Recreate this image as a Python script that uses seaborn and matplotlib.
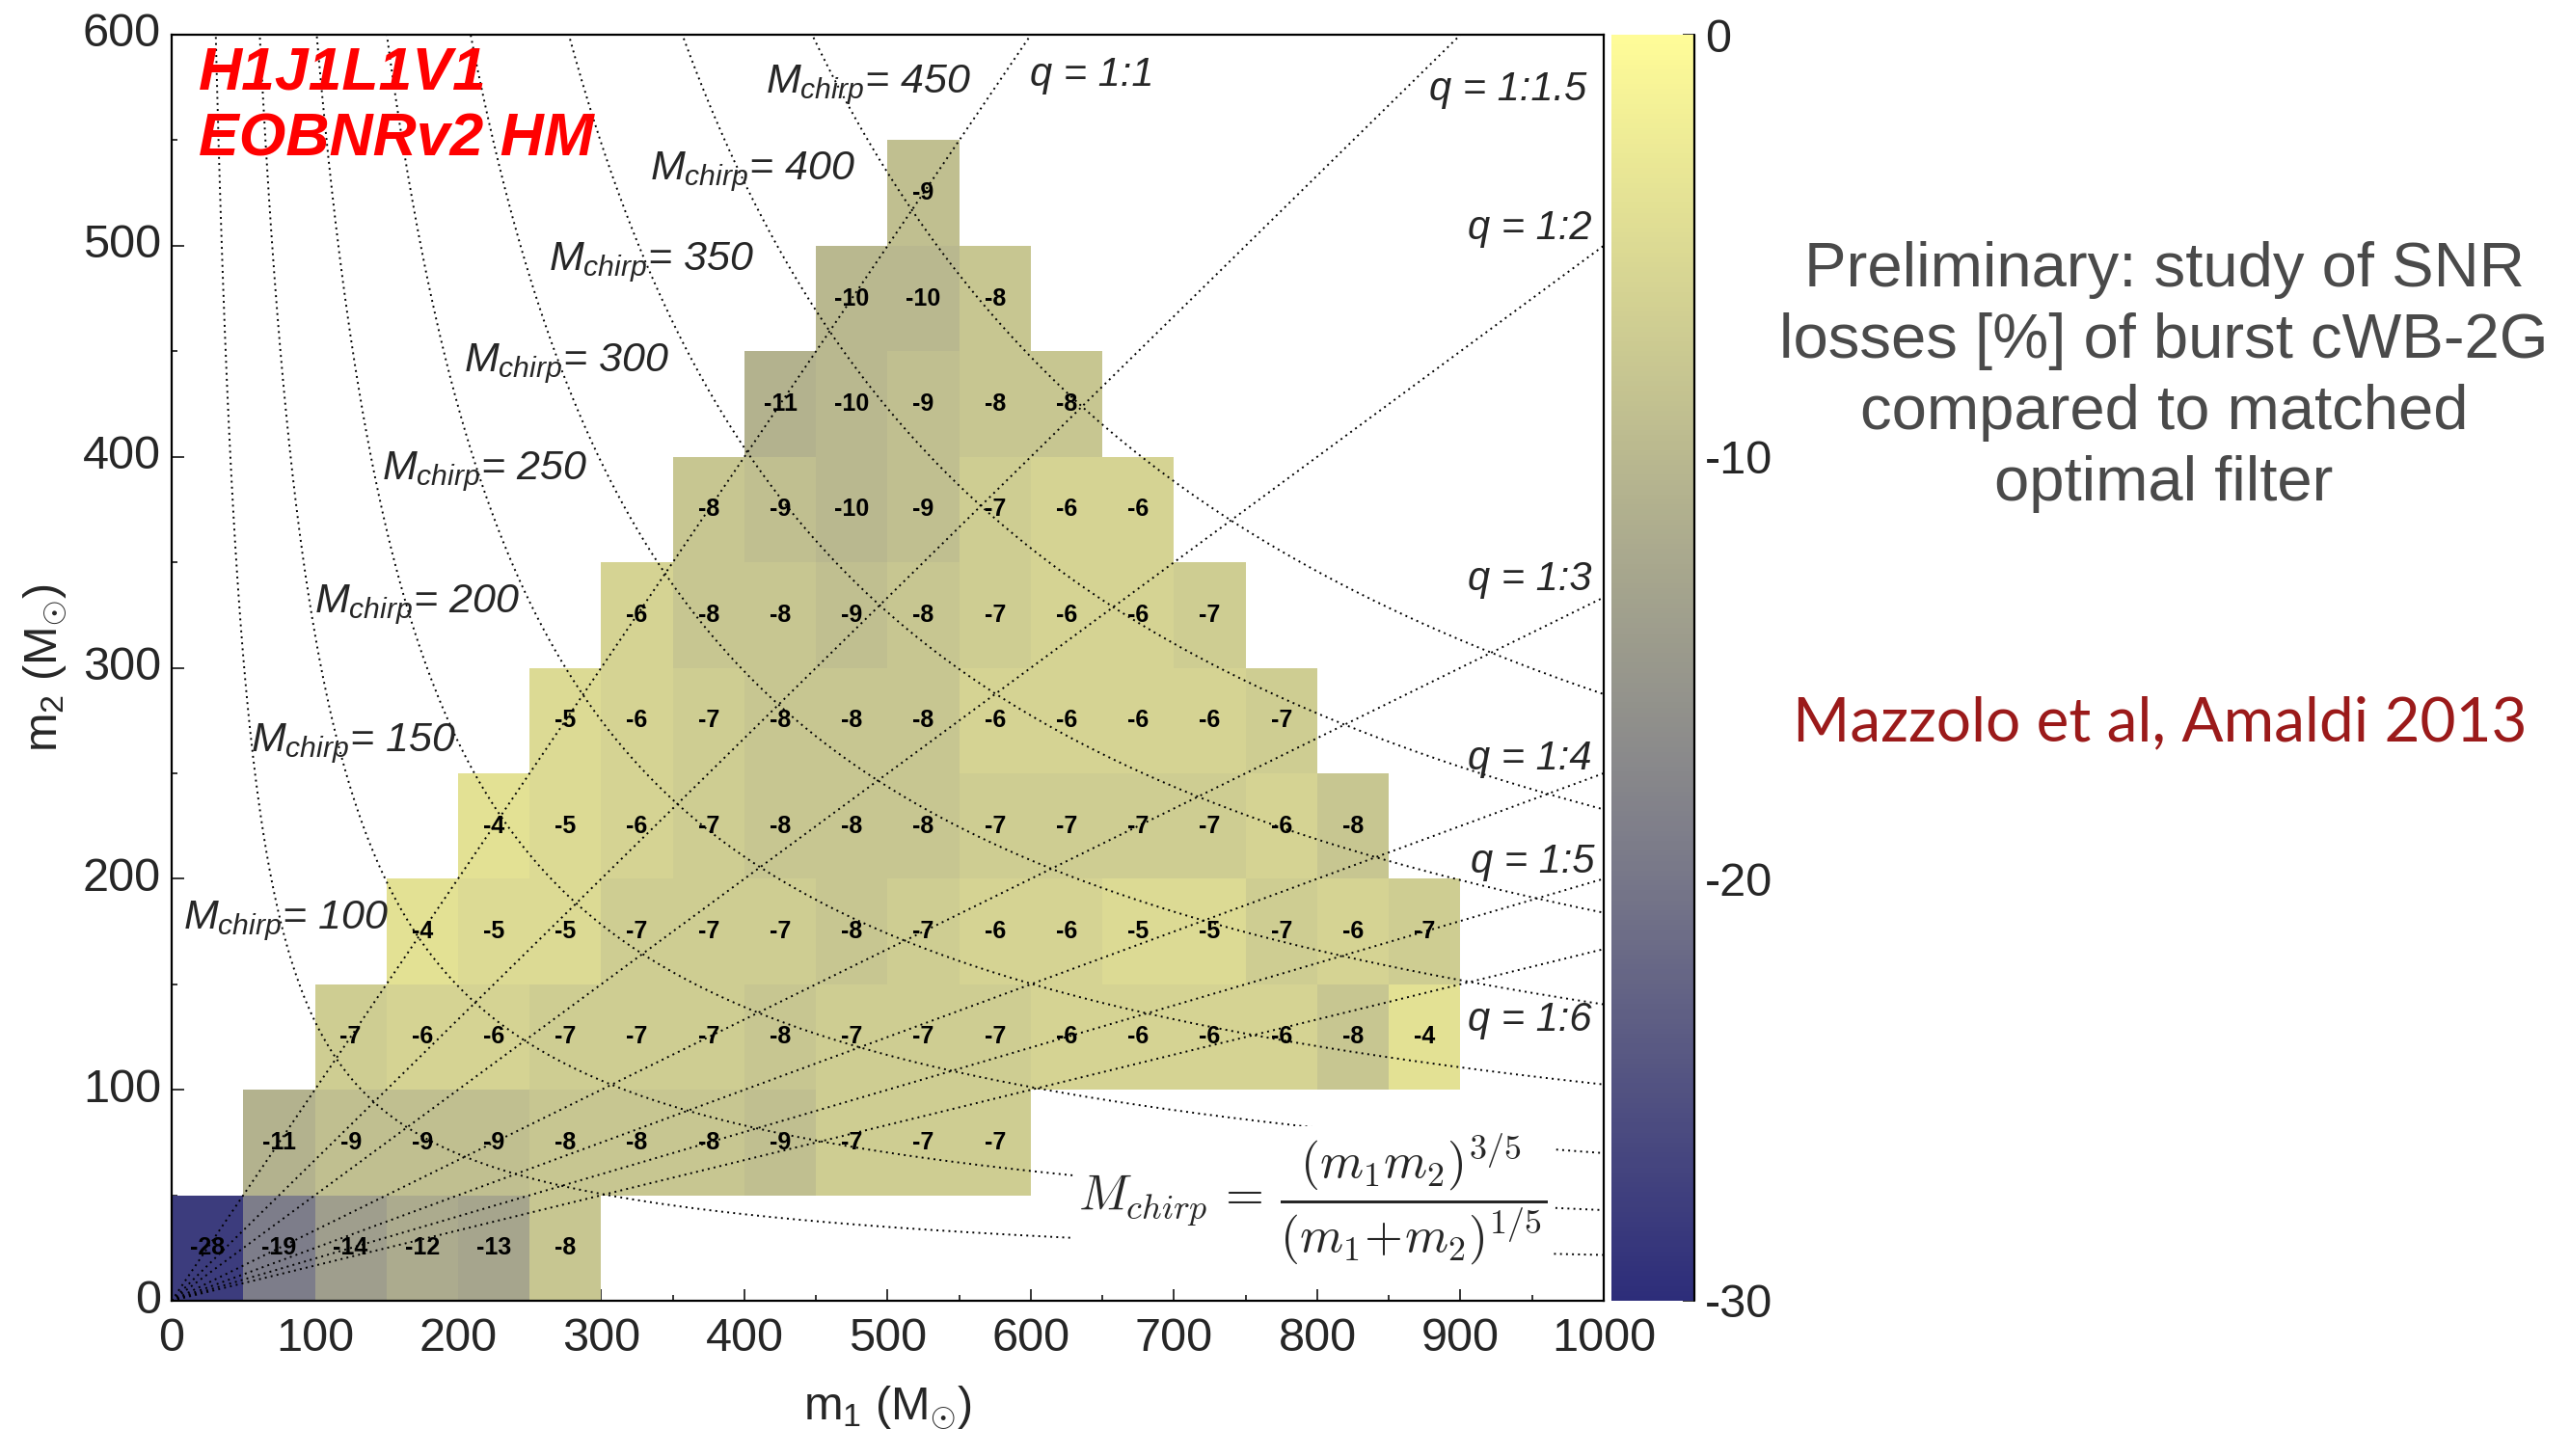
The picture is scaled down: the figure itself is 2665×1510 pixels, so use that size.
import numpy as np
import pandas as pd
import matplotlib
matplotlib.use("Agg")
import matplotlib.pyplot as plt
import matplotlib.transforms as mtransforms
from matplotlib.colors import LinearSegmentedColormap
import seaborn as sns

# ---------------------------------------------------------------------------
# SNR loss [%] of burst cWB-2G vs. matched filter, on a 50 Msun x 50 Msun grid.
# One list per m2 row (lower edge of the row), starting at the given m1 bin.
# ---------------------------------------------------------------------------
bin_width = 50
m1_edges = list(range(0, 1000, bin_width))     # 20 columns
m2_edges = list(range(0, 600, bin_width))      # 12 rows

row_m2 = [0, 50, 100, 150, 200, 250, 300, 350, 400, 450, 500]
row_first_m1 = [0, 50, 100, 150, 200, 250, 300, 350, 400, 450, 500]
loss_m2_000 = [-28, -19, -14, -12, -13, -8]
loss_m2_050 = [-11, -9, -9, -9, -8, -8, -8, -9, -7, -7, -7]
loss_m2_100 = [-7, -6, -6, -7, -7, -7, -8, -7, -7, -7, -6, -6, -6, -6, -8, -4]
loss_m2_150 = [-4, -5, -5, -7, -7, -7, -8, -7, -6, -6, -5, -5, -7, -6, -7]
loss_m2_200 = [-4, -5, -6, -7, -8, -8, -8, -7, -7, -7, -7, -6, -8]
loss_m2_250 = [-5, -6, -7, -8, -8, -8, -6, -6, -6, -6, -7]
loss_m2_300 = [-6, -8, -8, -9, -8, -7, -6, -6, -7]
loss_m2_350 = [-8, -9, -10, -9, -7, -6, -6]
loss_m2_400 = [-11, -10, -9, -8, -8]
loss_m2_450 = [-10, -10, -8]
loss_m2_500 = [-9]
loss_rows = [loss_m2_000, loss_m2_050, loss_m2_100, loss_m2_150, loss_m2_200,
             loss_m2_250, loss_m2_300, loss_m2_350, loss_m2_400, loss_m2_450,
             loss_m2_500]

# Guide curves: constant chirp mass and constant mass ratio
mchirp_values = [100, 150, 200, 250, 300, 350, 400, 450]
q_values = [1, 1.5, 2, 3, 4, 5, 6]
q_names = ["1:1", "1:1.5", "1:2", "1:3", "1:4", "1:5", "1:6"]

cbar_ticks = [0, -10, -20, -30]
x_tick_labels = [str(v) for v in range(0, 1001, 100)]
y_tick_labels = [str(v) for v in range(0, 601, 100)]

# ---------------------------------------------------------------------------
grid = pd.DataFrame(np.nan, index=m2_edges, columns=m1_edges)
for m2, m1_start, vals in zip(row_m2, row_first_m1, loss_rows):
    for k, v in enumerate(vals):
        grid.loc[m2, m1_start + k * bin_width] = v

sns.set_style("white")
plt.rcParams["font.family"] = ["Liberation Sans", "DejaVu Sans"]
plt.rcParams["axes.unicode_minus"] = False
plt.rcParams["mathtext.fontset"] = "custom"
plt.rcParams["mathtext.rm"] = "Liberation Sans"
plt.rcParams["mathtext.it"] = "Liberation Sans:italic"
plt.rcParams["mathtext.bf"] = "Liberation Sans:bold"

cmap = LinearSegmentedColormap.from_list(
    "snr_loss",
    [(0.0, "#2d2d7a"), (1 / 3, "#777789"), (2 / 3, "#b9b88f"), (1.0, "#fffc98")],
)

W, H = 2665, 1510
fig = plt.figure(figsize=(W / 100, H / 100), dpi=100)
ax = fig.add_axes([178 / W, 1 - 1349 / H, 1485 / W, 1313 / H])
cax = fig.add_axes([1671 / W, 1 - 1349 / H, 86 / W, 1313 / H])

sns.heatmap(
    grid, ax=ax, cbar_ax=cax, cmap=cmap, vmin=-30, vmax=0,
    annot=True, fmt=".0f", linewidths=0,
    annot_kws={"color": "black", "fontsize": 18, "fontweight": "bold",
               "family": ["Liberation Sans Narrow", "Liberation Sans"]},
    cbar_kws={"ticks": cbar_ticks},
)
ax.invert_yaxis()

# mass coordinates (Msun) -> heatmap cell index coordinates
mass = mtransforms.Affine2D().scale(1.0 / bin_width) + ax.transData

# axes frame and ticks
for sp in ax.spines.values():
    sp.set_visible(True)
    sp.set_color("black")
    sp.set_linewidth(1.6)
ax.set_xticks(np.arange(0, 21, 2))
ax.set_xticklabels(x_tick_labels, rotation=0)
ax.set_xticks(np.arange(1, 21, 2), minor=True)
ax.set_yticks(np.arange(0, 13, 2))
ax.set_yticklabels(y_tick_labels, rotation=0)
ax.set_yticks(np.arange(1, 13, 2), minor=True)
ax.tick_params(which="both", direction="in", bottom=True, left=True,
               top=False, right=False, color="black", width=1.1)
ax.tick_params(which="major", length=9, labelsize=35)
ax.tick_params(which="minor", length=4.5)
ax.tick_params(axis="x", which="major", pad=12)
ax.tick_params(axis="y", which="major", pad=8)
ax.set_xlabel(r"m$_1$ (M$_{\odot}$)", fontsize=35, labelpad=18)
ax.set_ylabel(r"m$_2$ (M$_{\odot}$)", fontsize=35, labelpad=10)

# dotted guide lines
line_kw = dict(color="black", lw=1.4, ls=(0, (1, 2.2)), zorder=3, transform=mass)
for q in q_values:
    m1 = np.array([0.0, 1000.0])
    ax.plot(m1, m1 / q, **line_kw)
ratio = np.geomspace(1 / 80, 80, 4000)
eta = ratio / (1 + ratio) ** 2
for mc in mchirp_values:
    mtot = mc / eta ** 0.6
    ax.plot(mtot / (1 + ratio), mtot * ratio / (1 + ratio), **line_kw)

# curve labels
mchirp_label_pos = [(415, 576), (334, 535), (263, 492), (204, 444),
                    (147, 393), (100, 330), (55, 264), (8, 180)]
for mc, (x, y) in zip(mchirp_values[::-1], mchirp_label_pos):
    ax.text(x, y, r"$M_{chirp}$" + f"= {mc}", transform=mass, fontsize=31,
            style="italic", ha="left", va="center", zorder=4)

q_label_pos = [(599, 581), (878, 574), (905, 508), (905, 342),
               (905, 257), (907, 208), (905, 133)]
for name, (x, y) in zip(q_names, q_label_pos):
    ax.text(x, y, f"q = {name}", transform=mass, fontsize=30,
            style="italic", ha="left", va="center", zorder=4)

# chirp mass definition
ax.text(797, 48, r"$M_{chirp}\, =\, \dfrac{(m_1 m_2)^{3/5}}{(m_1\!+\!m_2)^{1/5}}$",
        transform=mass, fontsize=37, ha="center", va="center",
        math_fontfamily="cm", zorder=6,
        bbox=dict(facecolor="white", edgecolor="none", pad=4))

# detector network / waveform tag
ax.text(19, 595, "H1J1L1V1\nEOBNRv2 HM", transform=mass, fontsize=45,
        color="#ff0000", fontweight="bold", style="italic",
        ha="left", va="top", linespacing=1.2, zorder=6)

# colorbar styling
cbar = ax.collections[0].colorbar
cbar.outline.set_visible(False)
cax.tick_params(direction="in", length=9, width=1.1, labelsize=35, pad=8,
                right=True, color="black")
cax.plot([1, 1], [0, 1], transform=cax.transAxes, color="black", lw=1.6,
         clip_on=False)

# side notes
fig.text(2244 / W, 1 - 391 / H,
         "Preliminary: study of SNR\nlosses [%] of burst cWB-2G\ncompared to matched\noptimal filter",
         ha="center", va="center", fontsize=47, color="#4a4a4a", linespacing=1.3)
fig.text(2240 / W, 1 - 750 / H, "Mazzolo et al, Amaldi 2013",
         ha="center", va="center", fontsize=46, color="#9b1a1a",
         family=["Lato", "Liberation Sans"])

fig.savefig("out.png", dpi=100)
